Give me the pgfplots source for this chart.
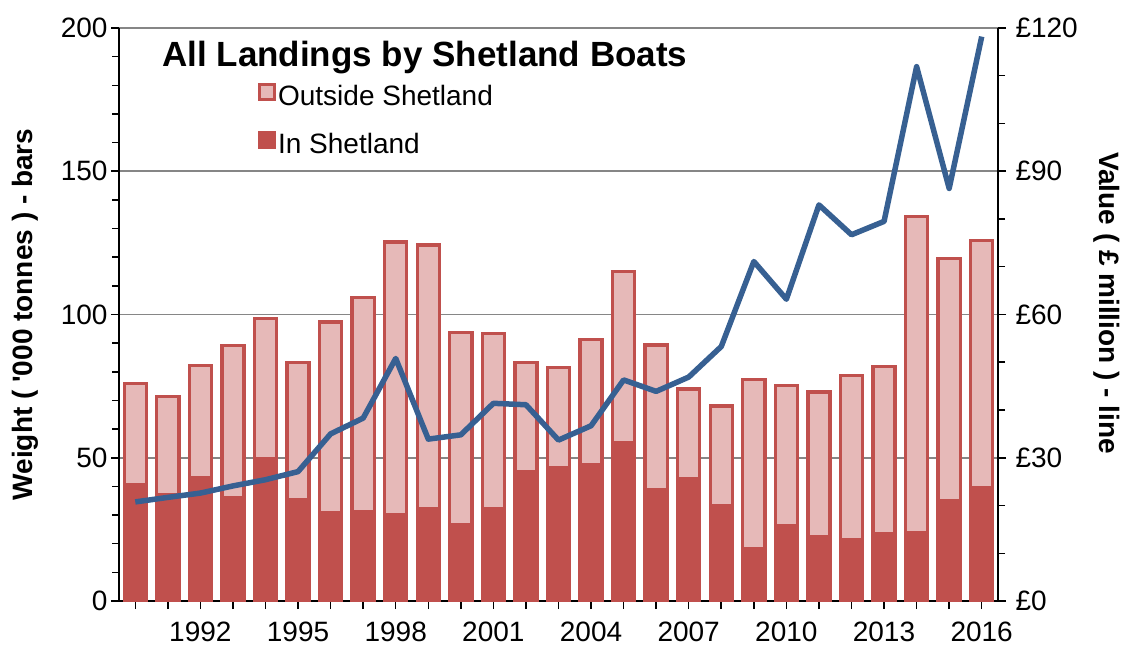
\documentclass[border=0pt]{standalone}
\usepackage{pgfplots}
\usepackage{pgfplotstable}
\pgfplotsset{compat=1.18}
\usepackage{fontspec}
\setmainfont{Liberation Sans}
\definecolor{barred}{HTML}{C0504D}
\definecolor{barpink}{HTML}{E6B9B8}
\definecolor{lineblue}{HTML}{376092}
\definecolor{gridgray}{HTML}{868686}

\pgfplotstableread{
year in out value
1990 40.5 35.5 20.75
1991 37.0 34.5 21.7
1992 43.0 39.2 22.6
1993 35.9 53.2 24.1
1994 49.8 48.9 25.4
1995 35.4 47.9 27.1
1996 31.0 66.4 35.0
1997 31.2 74.8 38.3
1998 30.0 95.3 50.8
1999 32.3 92.0 33.9
2000 26.5 67.2 34.8
2001 32.3 61.1 41.4
2002 45.1 38.2 41.1
2003 46.6 35.0 33.7
2004 47.5 43.8 36.7
2005 55.4 59.7 46.3
2006 38.7 50.7 43.9
2007 42.6 31.4 46.9
2008 33.2 34.9 53.3
2009 18.3 58.9 71.1
2010 26.2 48.9 63.2
2011 22.5 50.4 82.95
2012 21.4 57.3 76.7
2013 23.6 58.3 79.5
2014 24.0 110.3 111.9
2015 35.0 84.5 86.4
2016 39.7 86.1 118.2
}\data

\pgfplotsset{
  myaxis/.style={
    at={(119pt,47pt)}, anchor=south west,
    scale only axis, width=879pt, height=573pt,
    xmin=1989.5, xmax=2016.5,
    tick align=outside,
    major tick length=8pt, minor tick length=7pt,
    every tick/.style={black, line width=1.5pt},
    minor tick style={black, line width=1.5pt},
    axis line style={black, line width=2.5pt},
    tick label style={font=\fontsize{28}{34}\selectfont},
    label style={font=\fontsize{28}{34}\selectfont\bfseries},
    /pgf/number format/assume math mode=true,
  }
}

\begin{document}
\begin{tikzpicture}
\useasboundingbox (0,0) rectangle (1123pt,648pt);
\begin{axis}[myaxis,
  ymin=0, ymax=200,
  ybar stacked, bar width=0.68,
  axis x line*=bottom, axis y line*=left,
  xtick={1990,...,2016},
  xticklabels={,,1992,,,1995,,,1998,,,2001,,,2004,,,2007,,,2010,,,2013,,,2016},
  x tick label style={yshift=-9pt},
  ytick={0,50,...,200}, minor ytick={0,10,...,200},
  ymajorgrids, major grid style={gridgray, line width=1.5pt},
  ylabel={Weight ( \textquotesingle 000 tonnes ) - bars},
  ylabel style={at={(axis description cs:-0.107,0.5)}, anchor=center},
  legend style={draw=none, fill=none, at={(0.158,0.905)}, anchor=north west,
    font=\fontsize{28}{34}\selectfont, row sep=22pt, inner sep=0pt,
    /tikz/every even column/.append style={column sep=6pt}},
  legend cell align=left,
  reverse legend,
]
\addplot[fill=barred, draw=barred, line width=3.3pt,
  legend image code/.code={\draw[fill=barred, draw=barred, line width=3pt] (1.5pt,-3pt) rectangle (16.5pt,12pt);}]
  table[x=year, y=in]{\data};
\addlegendentry{In Shetland}
\addplot[fill=barpink, draw=barred, line width=3.3pt,
  legend image code/.code={\draw[fill=barpink, draw=barred, line width=3pt] (1.5pt,-3pt) rectangle (16.5pt,12pt);}]
  table[x=year, y=out]{\data};
\addlegendentry{Outside Shetland}
\end{axis}
\begin{axis}[myaxis,
  ymin=0, ymax=120,
  axis y line*=right, axis x line=none,
  ytick={0,30,...,120}, minor ytick={0,10,...,120},
  yticklabel={£\pgfmathprintnumber{\tick}},
  y tick label style={xshift=6pt},
  ylabel={Value ( £ million ) - line},
  ylabel style={at={(axis description cs:1.124,0.52)}, anchor=center, rotate=180},
]
\addplot[lineblue, line width=5.5pt, mark=none, line join=round] table[x=year, y=value]{\data};
\end{axis}
\node[anchor=base west, inner sep=0pt, font=\fontsize{35}{42}\selectfont\bfseries] at (162pt,581pt) {All Landings by Shetland Boats};
\end{tikzpicture}
\end{document}
